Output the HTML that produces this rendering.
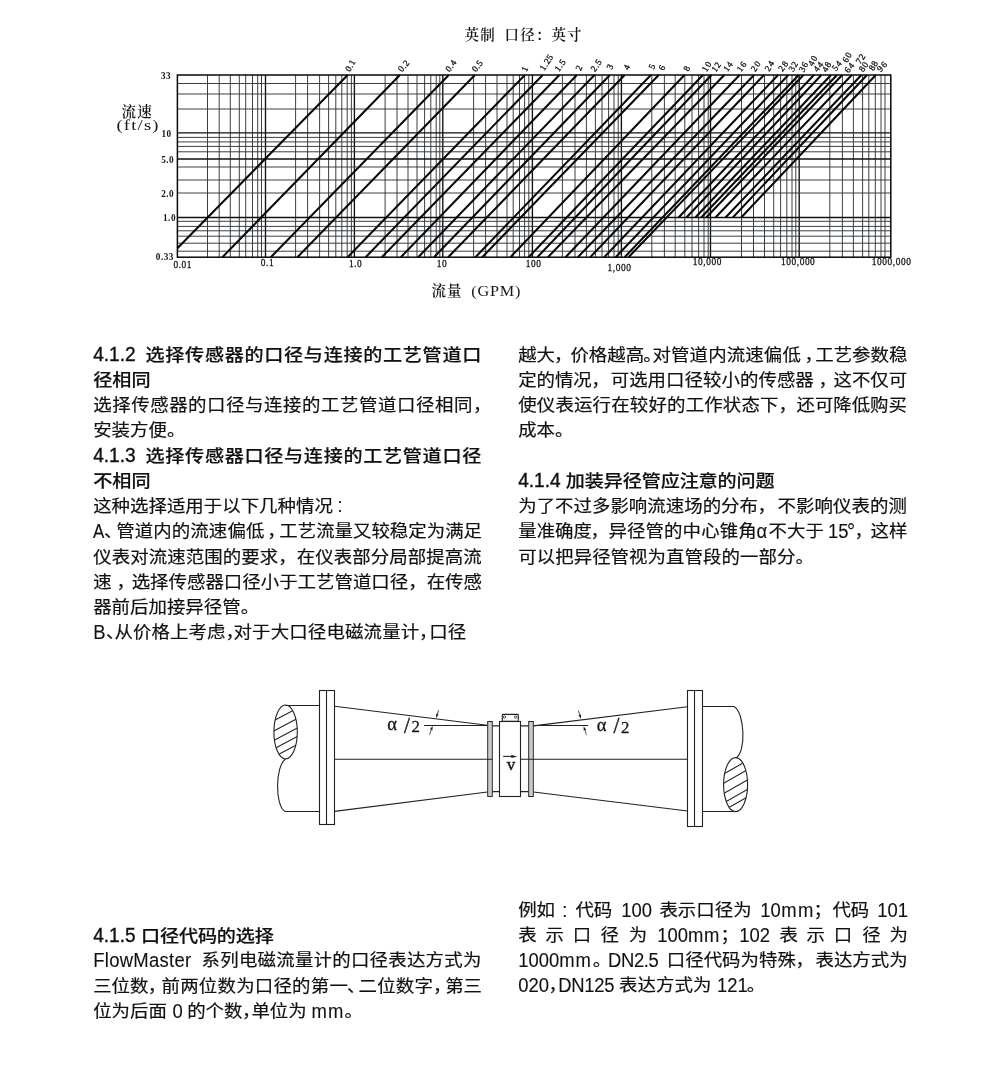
<!DOCTYPE html>
<html lang="zh-CN">
<head>
<meta charset="utf-8">
<title>FlowMaster</title>
<style>
html,body{margin:0;padding:0;background:#fff;}
body{width:1000px;height:1089px;position:relative;overflow:hidden;
 font-family:"Liberation Sans","Noto Sans CJK SC",sans-serif;color:#111;}
#page{position:absolute;left:0;top:0;width:1000px;height:1089px;background:#fff;will-change:transform;}
.fig{margin:0;padding:0;}
.chart{position:absolute;left:0;top:0;}
.diag{position:absolute;left:0;top:670px;}
.txt,.txt h3,.txt p{margin:0;padding:0;font-size:18.45px;font-weight:400;}
.s{position:absolute;height:25px;line-height:25px;font-size:18.45px;font-weight:400;white-space:pre;
 font-kerning:none;}
.s{transform:scaleY(0.93);transform-origin:0 18.9px;-webkit-text-stroke:0.2px #111;}
.s.l{transform:scaleY(1.09);-webkit-text-stroke:0.1px #111;}
.s.h{font-size:19.1px;font-weight:500;transform:scaleY(0.92);transform-origin:0 19.1px;-webkit-text-stroke:0.2px #111;}
.s.h.l{transform:scaleY(1.035);-webkit-text-stroke:0.36px #111;}
svg text{font-family:"Liberation Serif","Noto Serif CJK SC",serif;fill:#151515;}
.dl text{font-size:9px;font-weight:normal;text-anchor:middle;dominant-baseline:central;stroke:#151515;stroke-width:0.3px;}
.ya text,.xa text{font-size:9.2px;font-weight:bold;letter-spacing:0.5px;}
.xa text{font-weight:normal;font-size:9.4px;letter-spacing:0.55px;stroke:#151515;stroke-width:0.25px;}
.tt text{font-size:14.5px;font-weight:600;letter-spacing:1.2px;font-family:"Liberation Serif","Noto Serif CJK SC",serif;}
.tt text.t3{font-family:"Liberation Serif",serif;font-weight:normal;font-size:15.5px;letter-spacing:1px;}
.tt text.t4{font-family:"Liberation Serif",serif;font-weight:normal;font-size:14.5px;letter-spacing:0.75px;}
.dt text{font-size:17px;stroke:#151515;stroke-width:0.3px;}
.dt text.a{font-size:18.5px;}
.dt text.n{font-size:16.8px;}
.dt text.v{font-size:17px;font-weight:normal;stroke-width:0.45px;}
</style>
</head>
<body>
<main id="page">
<figure class="fig">
<svg class="chart" width="1000" height="320" viewBox="0 0 1000 320">
<path d="M207.5 75V257.2M219.2 75V257.2M230.3 75V257.2M239.3 75V257.2M245.7 75V257.2M252.5 75V257.2M257.7 75V257.2M261.5 75V257.2M295.6 75V257.2M307.6 75V257.2M319.6 75V257.2M328.6 75V257.2M335.8 75V257.2M341.8 75V257.2M347.2 75V257.2M351.4 75V257.2M385.1 75V257.2M397 75V257.2M408 75V257.2M417 75V257.2M424.6 75V257.2M430.8 75V257.2M436.2 75V257.2M439.8 75V257.2M473.6 75V257.2M485.6 75V257.2M497 75V257.2M507 75V257.2M513.2 75V257.2M519.5 75V257.2M524.6 75V257.2M528.8 75V257.2M562.4 75V257.2M575 75V257.2M586.4 75V257.2M595.4 75V257.2M602 75V257.2M608.6 75V257.2M614 75V257.2M618.2 75V257.2M651.8 75V257.2M664.4 75V257.2M675.2 75V257.2M684.8 75V257.2M692 75V257.2M698.6 75V257.2M704 75V257.2M708.2 75V257.2M741.5 75V257.2M753.5 75V257.2M764.5 75V257.2M773.7 75V257.2M780.6 75V257.2M786.8 75V257.2M792 75V257.2M795.8 75V257.2M829.8 75V257.2M842.4 75V257.2M853.4 75V257.2M862.6 75V257.2M868.8 75V257.2M875.3 75V257.2M881 75V257.2M885 75V257.2" stroke="#30363a" stroke-width="0.95" fill="none"/>
<path d="M265.5 75V257.2M354.4 75V257.2M442.8 75V257.2M532.4 75V257.2M621.4 75V257.2M710.5 75V257.2M799.2 75V257.2" stroke="#101010" stroke-width="1.35" fill="none"/>
<path d="M177.4 83.5H890.8M177.4 94H890.8M177.4 109H890.8M177.4 137.4H890.8M177.4 141.9H890.8M177.4 146.4H890.8M177.4 151.8H890.8M177.4 167H890.8M177.4 180H890.8M177.4 193H890.8M177.4 221.3H890.8M177.4 226.4H890.8M177.4 230.8H890.8M177.4 236.2H890.8M177.4 243.2H890.8M177.4 251.2H890.8" stroke="#30363a" stroke-width="0.95" fill="none"/>
<path d="M177.4 132.9H890.8M177.4 159H890.8M177.4 217.5H890.8" stroke="#101010" stroke-width="1.35" fill="none"/>
<rect x="177.4" y="75" width="713.4" height="182.2" fill="none" stroke="#080808" stroke-width="1.5"/>
<path d="M177.4 248.25L347.7 75M222.4 257.2L399.9 75M270.8 257.2L448.8 75M297.4 257.2L474.9 75M347.6 257.2L524.9 75M365.6 257.2L542.7 75M381.8 257.2L559.4 75M400.8 257.2L576.9 75M418.2 257.2L594.5 75M434 257.2L609.9 75M448.2 257.2L624.7 75M475.4 257.2L650.9 75M482.2 257.2L658.7 75M510.4 257.2L684.5 75M528.6 257.2L702.9 75M537.3 257.2L711.5 75M547.9 257.2L724.3 75M565.5 257.2L739.6 75M577.8 257.2L754.1 75M590.2 257.2L764 75M604.2 257.2L778.1 75M615.7 257.2L788.3 75M624.6 257.2L798.7 75M628.5 257.2L803.5 75M678.6 217.5L813.9 75M686.4 217.5L821.4 75M695.3 217.5L831 75M701.2 217.5L837 75M706.2 217.5L842.2 75M715.5 217.5L851.8 75M725.5 217.5L861.4 75M732.8 217.5L867 75M741.2 217.5L875.8 75" stroke="#080808" stroke-width="2.05" fill="none"/>
<g class="dl">
<text transform="translate(350.2 65.6) rotate(-60.95)" dx="0.22" letter-spacing="0.44">0.1</text>
<text transform="translate(403.6 66) rotate(-50.91)" dx="0.22" letter-spacing="0.45">0.2</text>
<text transform="translate(450.8 65.8) rotate(-54.78)" dx="0.24" letter-spacing="0.49">0.4</text>
<text transform="translate(477.2 66) rotate(-53.13)" dx="0.16" letter-spacing="0.33">0.5</text>
<text transform="translate(524.6 69) rotate(-66)">1</text>
<text transform="translate(546.4 62.4) rotate(-57.26)" dx="0.19" letter-spacing="0.39">1.25</text>
<text transform="translate(560 65.4) rotate(-54.78)" dx="0.24" letter-spacing="0.49">1.5</text>
<text transform="translate(578.8 68) rotate(-66)">2</text>
<text transform="translate(596.2 65.4) rotate(-54.78)" dx="0.24" letter-spacing="0.49">2.5</text>
<text transform="translate(609.8 66.8) rotate(-66)">3</text>
<text transform="translate(626.6 67.2) rotate(-66)">4</text>
<text transform="translate(651.8 66.4) rotate(-66)">5</text>
<text transform="translate(661.8 67.6) rotate(-66)">6</text>
<text transform="translate(686.6 68.4) rotate(-66)">8</text>
<text transform="translate(706.6 66.6) rotate(-58.39)" dx="0.6" letter-spacing="1.2">10</text>
<text transform="translate(716.2 67) rotate(-53.97)" dx="0.32" letter-spacing="0.64">12</text>
<text transform="translate(727.8 66.6) rotate(-53.97)" dx="0.32" letter-spacing="0.64">14</text>
<text transform="translate(741.6 66.6) rotate(-53.13)" dx="0.6" letter-spacing="1.2">16</text>
<text transform="translate(755.6 66.4) rotate(-55.3)" dx="0.6" letter-spacing="1.2">20</text>
<text transform="translate(769.4 66) rotate(-58.39)" dx="0.6" letter-spacing="1.2">24</text>
<text transform="translate(783.2 66.2) rotate(-53.13)" dx="0.6" letter-spacing="1.2">28</text>
<text transform="translate(793.2 66.6) rotate(-59.74)" dx="0.38" letter-spacing="0.76">32</text>
<text transform="translate(803.3 66.95) rotate(-62.05)" dx="0.37" letter-spacing="0.75">36</text>
<text transform="translate(812.65 60.95) rotate(-61.31)" dx="0.6" letter-spacing="1.2">40</text>
<text transform="translate(818.25 66.75) rotate(-52.13)" dx="0.45" letter-spacing="0.9">44</text>
<text transform="translate(826.5 67) rotate(-59.04)" dx="0.52" letter-spacing="1.03">48</text>
<text transform="translate(836.75 65.75) rotate(-52.13)" dx="0.45" letter-spacing="0.9">54</text>
<text transform="translate(847 57.5) rotate(-59.04)" dx="0.52" letter-spacing="1.03">60</text>
<text transform="translate(849.25 67.75) rotate(-52.13)" dx="0.45" letter-spacing="0.9">64</text>
<text transform="translate(860.5 58.75) rotate(-56.31)" dx="0.3" letter-spacing="0.61">72</text>
<text transform="translate(863.5 66.75) rotate(-56.31)" dx="0.3" letter-spacing="0.61">80</text>
<text transform="translate(873.25 65.75) rotate(-60.95)" dx="0.17" letter-spacing="0.35">88</text>
<text transform="translate(882 66.75) rotate(-48.37)" dx="0.6" letter-spacing="1.2">96</text>
</g>
<g class="ya">
<text transform="translate(161 79.1) scale(1 1.18)">33</text>
<text transform="translate(161.4 136.6) scale(1 1.18)">10</text>
<text transform="translate(161.2 162.9) scale(1 1.18)">5.0</text>
<text transform="translate(161.2 196.6) scale(1 1.18)">2.0</text>
<text transform="translate(163 221.1) scale(1 1.18)">1.0</text>
<text transform="translate(155.8 259.8) scale(1 1.18)">0.33</text>
</g>
<g class="xa">
<text transform="translate(173.4 268.2) scale(1 1.12)">0.01</text>
<text transform="translate(260.8 266.3) scale(1 1.12)">0.1</text>
<text transform="translate(348.9 266.8) scale(1 1.12)">1.0</text>
<text transform="translate(436.8 267.2) scale(1 1.12)">10</text>
<text transform="translate(525.8 267.2) scale(1 1.12)">100</text>
<text transform="translate(607.5 270.8) scale(1 1.12)">1,000</text>
<text transform="translate(692.8 265.2) scale(1 1.12)">10,000</text>
<text transform="translate(781 265.2) scale(1 1.12)">100,000</text>
<text transform="translate(871.8 265.2) scale(1 1.12)">1000,000</text>
</g>
<g class="tt">
<text x="464.6" y="40">英制</text>
<text x="504.6" y="40">口径：</text>
<text x="551.4" y="40">英寸</text>
<text x="121.6" y="116.6" class="t2">流速</text>
<text transform="translate(116.4 129.8) scale(1.2 1)" class="t3">(ft/s)</text>
<text x="431.4" y="296" class="t2">流量</text>
<text transform="translate(471.2 296) scale(1.12 1)" class="t4">(GPM)</text>
</g>
</svg>
</figure>
<section class="txt">
<h3>
<span class="s h l" style="left:93.2px;top:342.1px;">4.1.2</span>
<span class="s h" style="left:145.5px;top:341.8px;letter-spacing:0.7px;">选择传感器的口径与连接的工艺管道口</span>
<span class="s h" style="left:93.2px;top:367.05px;">径相同</span>
</h3>
<p>
<span class="s" style="left:93.2px;top:392.2px;letter-spacing:0.55px;">选择传感器的口径与连接的工艺管道口径相同，</span>
<span class="s" style="left:93.2px;top:417.45px;">安装方便。</span>
</p>
<h3>
<span class="s h l" style="left:93.2px;top:443.1px;">4.1.3</span>
<span class="s h" style="left:145.5px;top:442.8px;letter-spacing:0.7px;">选择传感器口径与连接的工艺管道口径</span>
<span class="s h" style="left:93.2px;top:468.05px;">不相同</span>
</h3>
<p>
<span class="s" style="left:93.2px;top:492.5px;">这种选择适用于以下几种情况</span>
<span class="s l" style="left:337.4px;top:493.3px;">:</span>
</p>
<p>
<span class="s l" style="left:93.2px;top:519.25px;transform:scale(0.92,1.09);">A</span>
<span class="s" style="left:103.9px;top:518.45px;">、</span>
<span class="s" style="left:116.2px;top:518.45px;letter-spacing:0.1px;">管道内的流速偏低</span>
<span class="s" style="left:267.2px;top:518.45px;">，</span>
<span class="s" style="left:279.3px;top:518.45px;letter-spacing:-0.01px;">工艺流量又较稳定为满足</span>
<span class="s" style="left:93.2px;top:543.7px;letter-spacing:0.07px;">仪表对流速范围的要求，在仪表部分局部提高流</span>
<span class="s" style="left:93.2px;top:568.95px;">速</span>
<span class="s" style="left:116.4px;top:568.95px;">，</span>
<span class="s" style="left:131.7px;top:568.95px;">选择传感器口径小于工艺管道口径，在传感</span>
<span class="s" style="left:93.2px;top:594.2px;">器前后加接异径管。</span>
</p>
<p>
<span class="s l" style="left:93.2px;top:620.25px;">B</span>
<span class="s" style="left:105.9px;top:619.45px;">、</span>
<span class="s" style="left:114.6px;top:619.45px;letter-spacing:0.05px;">从价格上考虑</span>
<span class="s" style="left:225.4px;top:619.45px;">，</span>
<span class="s" style="left:233.5px;top:619.45px;letter-spacing:0.15px;">对于大口径电磁流量计</span>
<span class="s" style="left:419px;top:619.45px;">，</span>
<span class="s" style="left:429.2px;top:619.45px;letter-spacing:0.05px;">口径</span>
<span class="s" style="left:518.2px;top:341.7px;">越大</span>
<span class="s" style="left:554px;top:341.7px;">，</span>
<span class="s" style="left:570.4px;top:341.7px;">价格越高</span>
<span class="s" style="left:643.3px;top:341.7px;">。</span>
<span class="s" style="left:652.5px;top:341.7px;letter-spacing:0.12px;">对管道内流速偏低</span>
<span class="s" style="left:804.4px;top:341.7px;">，</span>
<span class="s" style="left:815.3px;top:341.7px;letter-spacing:-0.03px;">工艺参数稳</span>
<span class="s" style="left:518.2px;top:366.95px;letter-spacing:-0.05px;">定的情况</span>
<span class="s" style="left:591.2px;top:366.95px;">，</span>
<span class="s" style="left:610.7px;top:366.95px;letter-spacing:0.03px;">可选用口径较小的传感器</span>
<span class="s" style="left:818.4px;top:366.95px;">，</span>
<span class="s" style="left:833.5px;top:366.95px;letter-spacing:-0.05px;">这不仅可</span>
<span class="s" style="left:518.2px;top:392.2px;letter-spacing:0.17px;">使仪表运行在较好的工作状态下</span>
<span class="s" style="left:778.4px;top:392.2px;">，</span>
<span class="s" style="left:796.5px;top:392.2px;letter-spacing:-0.05px;">还可降低购买</span>
<span class="s" style="left:518.2px;top:417.45px;">成本。</span>
</p>
<h3>
<span class="s h l" style="left:518.2px;top:468.35px;">4.1.4</span>
<span class="s h" style="left:565.8px;top:468.05px;letter-spacing:-0.12px;">加装异径管应注意的问题</span>
</h3>
<p>
<span class="s" style="left:518.2px;top:493.2px;letter-spacing:0.01px;">为了不过多影响流速场的分布</span>
<span class="s" style="left:757.4px;top:493.2px;">，</span>
<span class="s" style="left:777.5px;top:493.2px;letter-spacing:0.05px;">不影响仪表的测</span>
<span class="s" style="left:518.2px;top:518.45px;letter-spacing:0.01px;">量准确度</span>
<span class="s" style="left:590.4px;top:518.45px;">，</span>
<span class="s" style="left:608.4px;top:518.45px;letter-spacing:0.11px;">异径管的中心锥角</span>
<span class="s l" style="left:756.6px;top:519.25px;">α</span>
<span class="s" style="left:768.5px;top:518.45px;letter-spacing:0.05px;">不大于</span>
<span class="s l" style="left:827.9px;top:519.25px;">15</span>
<span class="s l" style="left:847px;top:519.25px;transform:scale(1.1,1.09);">°</span>
<span class="s" style="left:854.4px;top:518.45px;">，</span>
<span class="s" style="left:870.5px;top:518.45px;letter-spacing:0.05px;">这样</span>
<span class="s" style="left:518.2px;top:543.7px;letter-spacing:0.05px;">可以把异径管视为直管段的一部分。</span>
</p>
</section>
<section class="txt">
<h3>
<span class="s h l" style="left:93.2px;top:923.2px;">4.1.5</span>
<span class="s h" style="left:141.1px;top:922.9px;letter-spacing:-0.15px;">口径代码的选择</span>
</h3>
<p>
<span class="s l" style="left:93.2px;top:947.7px;letter-spacing:0.3px;">FlowMaster</span>
<span class="s" style="left:201.6px;top:946.9px;letter-spacing:0.23px;">系列电磁流量计的口径表达方式为</span>
<span class="s" style="left:93.2px;top:972.8px;">三位数</span>
<span class="s" style="left:147.8px;top:972.8px;">，</span>
<span class="s" style="left:161.5px;top:972.8px;letter-spacing:0.22px;">前两位数为口径的第一</span>
<span class="s" style="left:346.9px;top:972.8px;">、</span>
<span class="s" style="left:358.5px;top:972.8px;letter-spacing:0.22px;">二位数字</span>
<span class="s" style="left:433px;top:972.8px;">，</span>
<span class="s" style="left:445.2px;top:972.8px;letter-spacing:-0.15px;">第三</span>
<span class="s" style="left:93.2px;top:997.8px;">位为后面</span>
<span class="s l" style="left:172.5px;top:998.6px;">0</span>
<span class="s" style="left:187.2px;top:997.8px;">的个数</span>
<span class="s" style="left:242px;top:997.8px;">，</span>
<span class="s" style="left:251.4px;top:997.8px;">单位为</span>
<span class="s l" style="left:311.4px;top:998.6px;letter-spacing:1.2px;">mm</span>
<span class="s" style="left:344.4px;top:997.8px;">。</span>
</p>
<p>
<span class="s" style="left:518.2px;top:896.9px;">例如</span>
<span class="s l" style="left:562.3px;top:897.7px;">:</span>
<span class="s" style="left:575.4px;top:896.9px;">代码</span>
<span class="s l" style="left:621.2px;top:897.7px;">100</span>
<span class="s" style="left:659.4px;top:896.9px;">表示口径为</span>
<span class="s l" style="left:760.2px;top:897.7px;">10</span>
<span class="s l" style="left:781.2px;top:897.7px;letter-spacing:1.5px;">mm</span>
<span class="s" style="left:813.4px;top:896.9px;">；</span>
<span class="s" style="left:832.4px;top:896.9px;">代码</span>
<span class="s l" style="left:877.2px;top:897.7px;">101</span>
<span class="s" style="left:518.2px;top:921.9px;">表</span>
<span class="s" style="left:545.4px;top:921.9px;">示</span>
<span class="s" style="left:572.8px;top:921.9px;">口</span>
<span class="s" style="left:600.6px;top:921.9px;">径</span>
<span class="s" style="left:628.8px;top:921.9px;">为</span>
<span class="s l" style="left:657.2px;top:922.7px;">100</span>
<span class="s l" style="left:688px;top:922.7px;letter-spacing:0.6px;">mm</span>
<span class="s" style="left:720.4px;top:921.9px;">；</span>
<span class="s l" style="left:739.2px;top:922.7px;">102</span>
<span class="s" style="left:779.4px;top:921.9px;">表</span>
<span class="s" style="left:806.4px;top:921.9px;">示</span>
<span class="s" style="left:833.8px;top:921.9px;">口</span>
<span class="s" style="left:862.2px;top:921.9px;">径</span>
<span class="s" style="left:889.4px;top:921.9px;">为</span>
<span class="s l" style="left:518.2px;top:947.7px;">1000</span>
<span class="s l" style="left:559.2px;top:947.7px;letter-spacing:1px;">mm</span>
<span class="s" style="left:592.7px;top:946.9px;">。</span>
<span class="s l" style="left:608.1px;top:947.7px;letter-spacing:-0.4px;">DN2.5</span>
<span class="s" style="left:666.8px;top:946.9px;">口径代码为特殊</span>
<span class="s" style="left:795.4px;top:946.9px;">，</span>
<span class="s" style="left:815.4px;top:946.9px;letter-spacing:0.05px;">表达方式为</span>
<span class="s l" style="left:518.2px;top:972.7px;">020</span>
<span class="s" style="left:548.4px;top:971.9px;">，</span>
<span class="s l" style="left:558.2px;top:972.7px;letter-spacing:-0.3px;">DN125</span>
<span class="s" style="left:619.1px;top:971.9px;letter-spacing:0.05px;">表达方式为</span>
<span class="s l" style="left:717px;top:972.7px;">121</span>
<span class="s" style="left:746.7px;top:971.9px;">。</span>
</p>
</section>
<figure class="fig">
<svg class="diag" width="1000" height="200" viewBox="0 670 1000 200">
<g fill="none" stroke="#222" stroke-width="1.1">
<rect x="319.5" y="690.5" width="15" height="134"/>
<path d="M326.5 690.5V824.5"/>
<path d="M285.5 705.5H319.5M285 811.5H319.5"/>
<path d="M285.6 759C275 766 275 806 285 811.5"/>
<path d="M334.5 706.2L487.5 725.3M334.5 811.4L487.5 792"/>
<path d="M424 725.5H487.5M533.5 725.5H588"/>
<rect x="487.7" y="721.5" width="4.6" height="75" fill="#cbcbcb" stroke-width="0.95"/>
<rect x="528.7" y="721.5" width="4.6" height="75" fill="#cbcbcb" stroke-width="0.95"/>
<path d="M334.5 759.3H492.5M520.5 759.3H687.5"/>
<rect x="499.5" y="721.5" width="21" height="75"/>
<rect x="502.3" y="714.4" width="16" height="7" rx="0.8"/>
<circle cx="504.5" cy="717.1" r="1.2" stroke-width="0.8"/><circle cx="515.7" cy="717.1" r="1.2" stroke-width="0.8"/>
<path d="M492.5 725.9H499.5M520.5 725.9H528.5M492.5 791.6H499.5M520.5 791.6H528.5"/>
<path d="M533.5 725.9L687.5 706.7M533.5 792L687.5 811"/>
<rect x="687.5" y="690.5" width="15" height="136"/>
<path d="M694.5 690.5V826.5"/>
<path d="M702.5 706.5H734M702.5 811.5H736"/>
<path d="M734 706.5C744.5 712 746.5 752 736 758"/>
<path d="M503.2 756.4H512"/>
</g>
<path d="M517.4 756.4L511.4 754.9V757.9Z" fill="#1c1c1c"/>
<path d="M438.6 710.2L437.35 714.19" fill="none" stroke="#1c1c1c" stroke-width="0.8"/><path d="M436.1 718.2L436.11 713.8L438.59 714.58Z" fill="#1c1c1c"/>
<path d="M429.6 734.6L431.24 729.78" fill="none" stroke="#1c1c1c" stroke-width="0.8"/><path d="M432.6 725.8L432.48 730.19L430.01 729.36Z" fill="#1c1c1c"/>
<path d="M578.4 710.6L579.73 714.8" fill="none" stroke="#1c1c1c" stroke-width="0.8"/><path d="M581 718.8L578.49 715.19L580.97 714.4Z" fill="#1c1c1c"/>
<path d="M586.4 734.6L584.93 730.18" fill="none" stroke="#1c1c1c" stroke-width="0.8"/><path d="M583.6 726.2L586.16 729.77L583.69 730.6Z" fill="#1c1c1c"/>
<clipPath id="he1"><ellipse cx="285.6" cy="732" rx="11.7" ry="27"/></clipPath>
<path d="M265.6 725L305.6 703.8M265.6 735.2L305.6 714M265.6 744.8L305.6 723.6M265.6 753.4L305.6 732.2M265.6 761.2L305.6 740" clip-path="url(#he1)" stroke="#222" stroke-width="1.1" fill="none"/>
<ellipse cx="285.6" cy="732" rx="11.7" ry="27" fill="none" stroke="#222" stroke-width="1.1"/>
<clipPath id="he2"><ellipse cx="735.6" cy="784.6" rx="12" ry="27"/></clipPath>
<path d="M715.6 778.6L755.6 755.8M715.6 787.8L755.6 765M715.6 798.1L755.6 775.3M715.6 807.5L755.6 784.7M715.6 815.2L755.6 792.4" clip-path="url(#he2)" stroke="#222" stroke-width="1.1" fill="none"/>
<ellipse cx="735.6" cy="784.6" rx="12" ry="27" fill="none" stroke="#222" stroke-width="1.1"/>
<g class="dt">
<text x="387.2" y="729.9" class="a">α</text>
<text transform="translate(403.9 732.5) scale(1.25 1.3)">/</text>
<text x="411.4" y="732.1" class="n">2</text>
<text x="596.8" y="730.7" class="a">α</text>
<text transform="translate(613.5 733.3) scale(1.25 1.3)">/</text>
<text x="621" y="732.9" class="n">2</text>
<text x="506.7" y="769.8" class="v">v</text>
</g>
</svg>
</figure>
</main>
</body>
</html>
